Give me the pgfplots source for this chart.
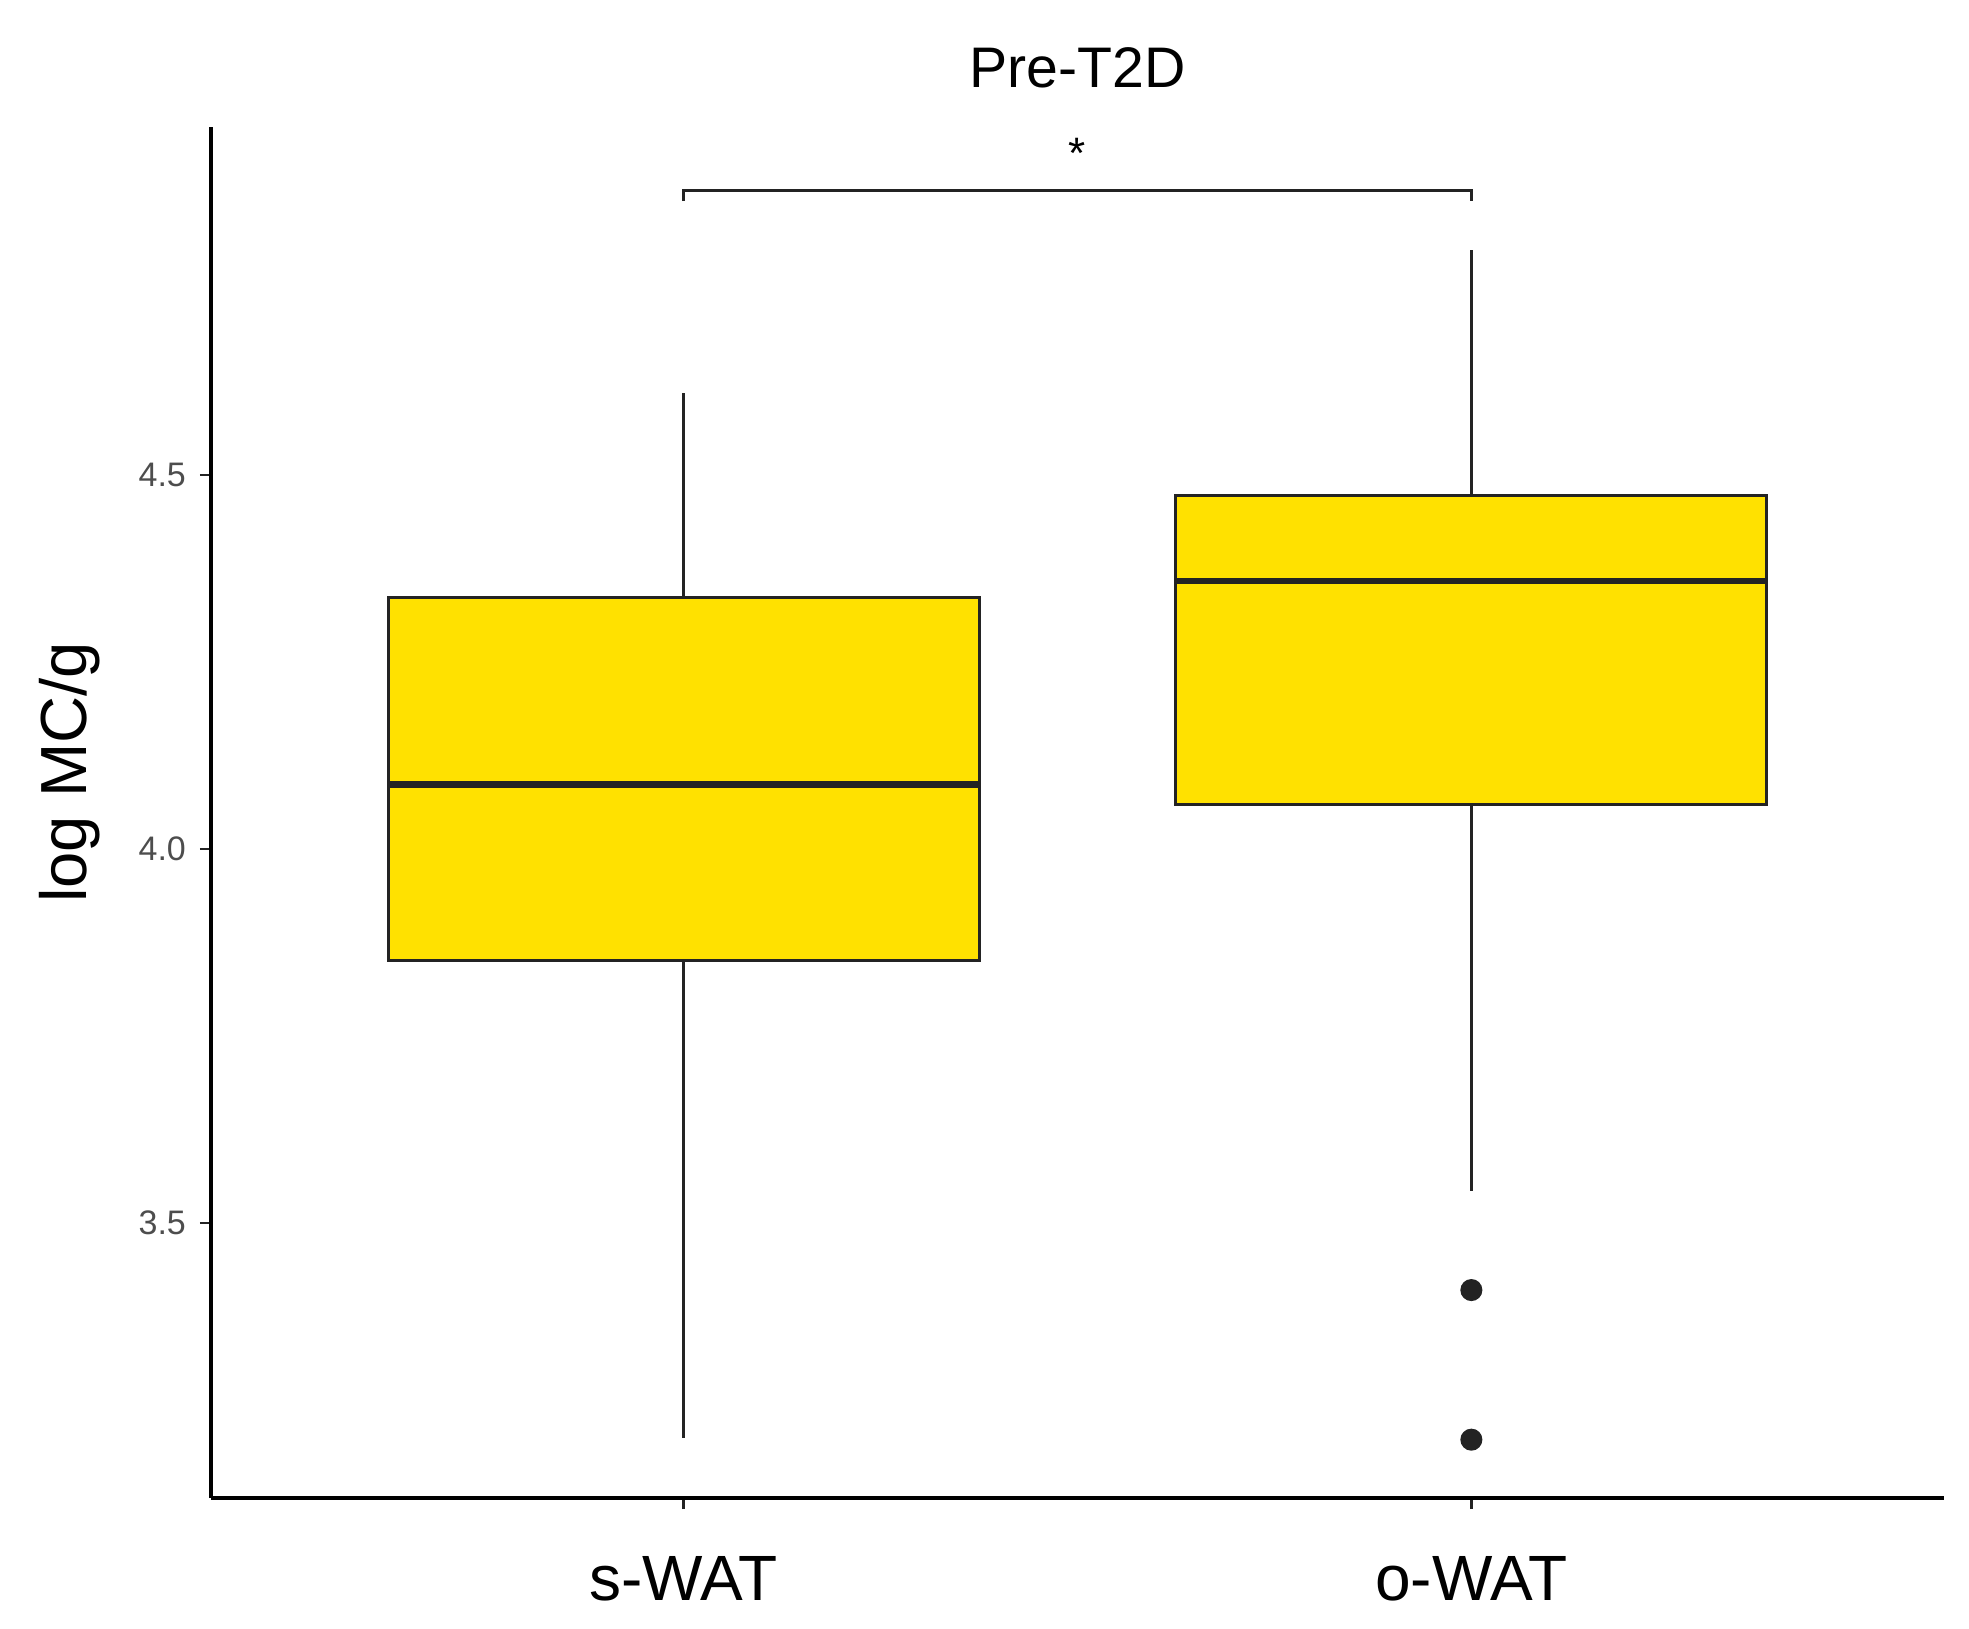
\documentclass[border=0pt]{standalone}
\usepackage{fontspec}
\setmainfont{Liberation Sans}
\usepackage{pgfplots}
\pgfplotsset{compat=1.18}
\usepgfplotslibrary{statistics}
\definecolor{boxfill}{RGB}{255,225,0}
\definecolor{edge}{RGB}{35,35,35}
\definecolor{ticktext}{RGB}{77,77,77}
\begin{document}
\begin{tikzpicture}
\begin{axis}[
  scale only axis, width=433.25pt, height=342.75pt,
  xmin=0.4, xmax=2.6, ymin=3.132, ymax=4.965,
  axis lines=left,
  axis line style={-, line width=0.9pt, black},
  xtick={1,2}, xticklabels={s-WAT,o-WAT},
  ytick={3.5,4,4.5}, yticklabels={3.5,4.0,4.5},
  tick align=outside, major tick length=2.75pt,
  tick style={line width=0.6pt, edge},
  xticklabel style={font=\fontsize{16}{16}\selectfont, anchor=base, yshift=-22.8pt},
  yticklabel style={font=\fontsize{8.5}{9}\selectfont, text=ticktext},
  title={Pre-T2D},
  title style={font=\fontsize{14.3}{15}\selectfont, at={(0.5,1)}, anchor=base, yshift=3.8pt},
  ylabel={log MC/g},
  every axis y label/.style={at={([xshift=-35.25pt,yshift=10pt]axis description cs:0,0.5)}, rotate=90, anchor=center, font=\fontsize{16.3}{17}\selectfont},
  clip=false,
  boxplot/draw direction=y,
  boxplot/box extend=0.75,
  boxplot/whisker extend=0,
  boxplot/every median/.style={line width=1.6pt},
]
\addplot[boxplot prepared={median=4.086, upper quartile=4.336, lower quartile=3.850, upper whisker=4.610, lower whisker=3.212, draw position=1},
  draw=edge, fill=boxfill, line width=0.75pt] coordinates {};
\addplot[boxplot prepared={median=4.358, upper quartile=4.472, lower quartile=4.059, upper whisker=4.800, lower whisker=3.543, draw position=2},
  draw=edge, fill=boxfill, line width=0.75pt, mark=*, mark size=2.5pt, mark options={fill=edge, draw=edge, line width=0.5pt}]
  table[row sep=\\, y index=0] {data\\ 3.410\\ 3.210\\};
\draw[edge, line width=0.7pt] (axis cs:1,4.866) -- (axis cs:1,4.880) -- (axis cs:2,4.880) -- (axis cs:2,4.866);
\node[anchor=base, font=\fontsize{11}{11}\selectfont, inner sep=0pt] at (axis cs:1.5,4.91) {*};
\end{axis}
\pgfresetboundingbox
\path ([xshift=-52.75pt,yshift=-32.5pt]current axis.south west) rectangle ([xshift=6.25pt,yshift=31.75pt]current axis.north east);
\end{tikzpicture}
\end{document}
